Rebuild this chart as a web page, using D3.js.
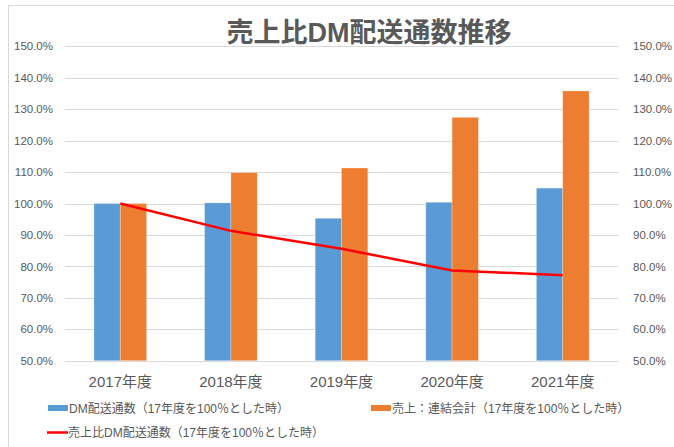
<!DOCTYPE html>
<html>
<head>
<meta charset="utf-8">
<script src="https://cdn.jsdelivr.net/npm/d3@7"></script>
<style>
  body { margin: 0; background: #fff; }
  text { font-family: "Liberation Sans", "Noto Sans CJK JP", sans-serif; fill: #595959; }
</style>
</head>
<body>
<script>
const years = ["2017年度", "2018年度", "2019年度", "2020年度", "2021年度"];
const dmCount = [100.0, 100.2, 95.3, 100.4, 104.9];
const sales = [100.0, 109.8, 111.3, 127.4, 135.8];
const ratio = [100.0, 91.3, 85.6, 78.7, 77.2];
const ticks = [50, 60, 70, 80, 90, 100, 110, 120, 130, 140, 150];
const legendNames = [
  "DM配送通数（17年度を100％とした時）",
  "売上：連結会計（17年度を100％とした時）",
  "売上比DM配送通数（17年度を100％とした時）"
];

const w = 674, h = 447;
const plotL = 65, plotR = 618, plotT = 46.3, plotB = 360.7;

const svg = d3.select("body").append("svg")
  .attr("width", w)
  .attr("height", h);

// chart frame
svg.append("rect")
  .attr("x", 8.5).attr("y", 5.5)
  .attr("width", 700).attr("height", 500)
  .attr("fill", "none")
  .attr("stroke", "#d9d9d9");

const x = d3.scaleBand().domain(years).range([plotL, plotR])
  .paddingInner(0.524).paddingOuter(0.262);
const xs = d3.scaleBand().domain([0, 1]).range([0, x.bandwidth()]);
const y = d3.scaleLinear().domain([50, 150]).range([plotB, plotT]);

// gridlines
svg.append("g").selectAll("line")
  .data(ticks)
  .join("line")
  .attr("x1", plotL).attr("x2", plotR)
  .attr("y1", d => Math.round(y(d)) + 0.5)
  .attr("y2", d => Math.round(y(d)) + 0.5)
  .attr("stroke", "#d9d9d9")
  .attr("stroke-width", 1);

// axes
const fmt = d => d3.format(".1f")(d) + "%";
const yl = svg.append("g").attr("transform", `translate(${plotL},0)`)
  .call(d3.axisLeft(y).tickValues(ticks).tickFormat(fmt).tickSize(0).tickPadding(12));
const yr = svg.append("g").attr("transform", `translate(${plotR},0)`)
  .call(d3.axisRight(y).tickValues(ticks).tickFormat(fmt).tickSize(0).tickPadding(15));
const xa = svg.append("g").attr("transform", `translate(0,${plotB})`)
  .call(d3.axisBottom(x).tickSize(0).tickPadding(16));
[yl, yr, xa].forEach(g => g.select(".domain").remove());
yl.selectAll("text").attr("font-size", 11.5);
yr.selectAll("text").attr("font-size", 11.5);
xa.selectAll("text").attr("font-size", 15);
[yl, yr, xa].forEach(g => g.attr("font-family", null).attr("font-size", null));
svg.selectAll(".tick text").attr("fill", "#595959");

// bars
const seriesList = [
  { values: dmCount, color: "#5B9BD5" },
  { values: sales, color: "#ED7D31" }
];
seriesList.forEach((s, si) => {
  svg.append("g").selectAll("rect")
    .data(s.values)
    .join("rect")
    .attr("x", (d, i) => x(years[i]) + xs(si))
    .attr("width", xs.bandwidth())
    .attr("y", d => y(d))
    .attr("height", d => y(50) - y(d))
    .attr("fill", s.color)
    .attr("stroke", "#ffffff")
    .attr("stroke-opacity", 0.35)
    .attr("stroke-width", 0.75);
});

// ratio line
const line = d3.line()
  .x((d, i) => x(years[i]) + x.bandwidth() / 2)
  .y(d => y(d));
svg.append("path")
  .datum(ratio)
  .attr("d", line)
  .attr("fill", "none")
  .attr("stroke", "#FF0000")
  .attr("stroke-width", 2.5)
  .attr("stroke-linejoin", "round");

// title
svg.append("text")
  .attr("x", 369).attr("y", 42)
  .attr("text-anchor", "middle")
  .attr("font-size", 27)
  .attr("font-weight", "bold")
  .text("売上比DM配送通数推移");

// legend
const leg = [
  { x: 48, y: 409, type: "rect", color: "#5B9BD5", name: legendNames[0] },
  { x: 371, y: 409, type: "rect", color: "#ED7D31", name: legendNames[1] },
  { x: 47, y: 433, type: "line", color: "#FF0000", name: legendNames[2] }
];
leg.forEach(l => {
  if (l.type === "rect") {
    svg.append("rect").attr("x", l.x).attr("y", l.y - 4)
      .attr("width", 20).attr("height", 6).attr("fill", l.color);
  } else {
    svg.append("line").attr("x1", l.x).attr("x2", l.x + 21)
      .attr("y1", l.y - 0.5).attr("y2", l.y - 0.5)
      .attr("stroke", l.color).attr("stroke-width", 2.5);
  }
  svg.append("text").attr("x", l.x + 21).attr("y", l.y + 4)
    .attr("font-size", 12)
    .text(l.name);
});
</script>
</body>
</html>
